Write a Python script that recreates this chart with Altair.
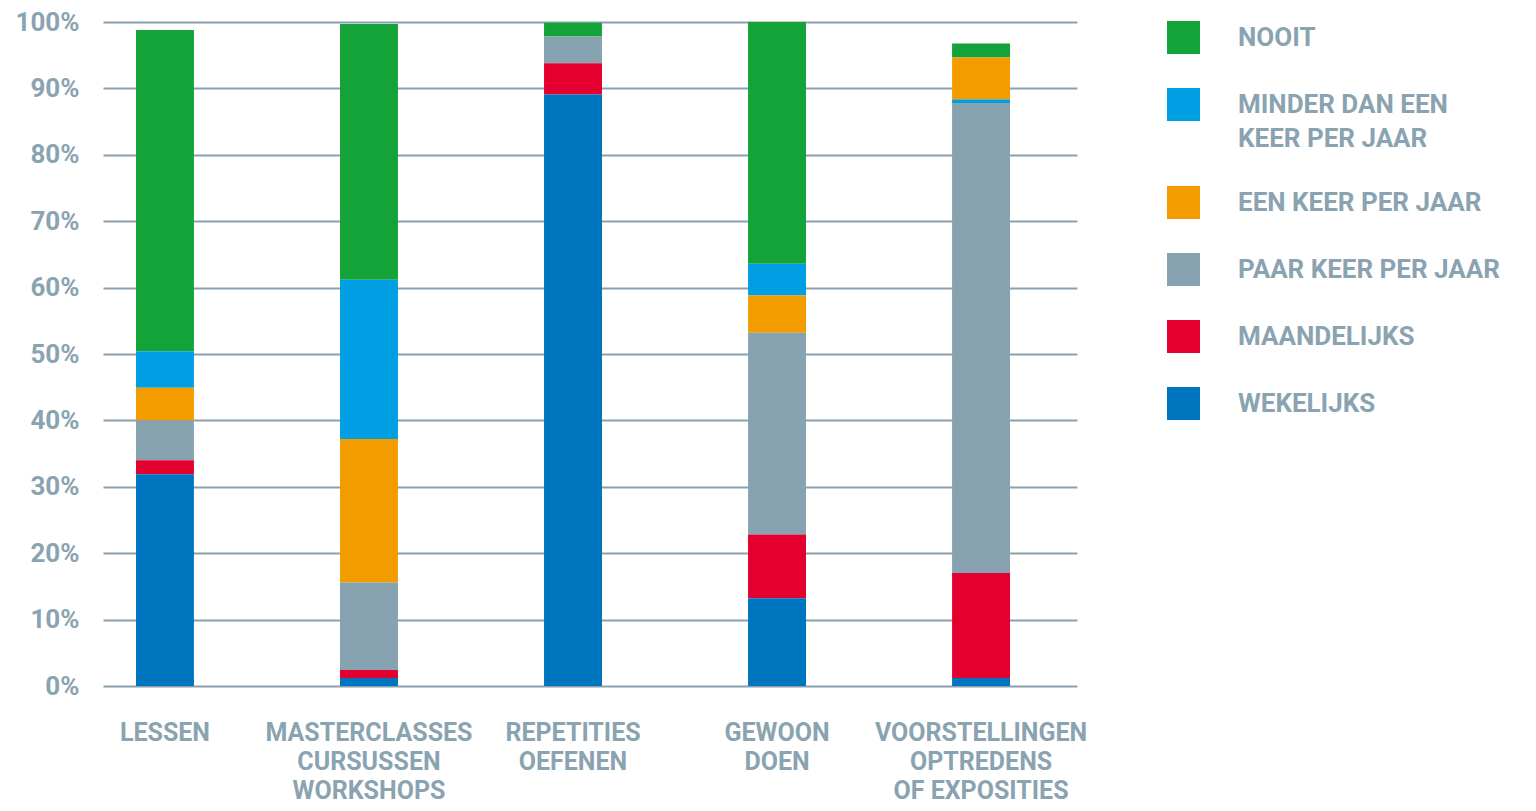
import altair as alt
import pandas as pd

categories = [
    "LESSEN",
    "MASTERCLASSES|CURSUSSEN|WORKSHOPS",
    "REPETITIES|OEFENEN",
    "GEWOON|DOEN",
    "VOORSTELLINGEN|OPTREDENS|OF EXPOSITIES",
]
series = [
    "NOOIT",
    "MINDER DAN EEN KEER PER JAAR",
    "EEN KEER PER JAAR",
    "PAAR KEER PER JAAR",
    "MAANDELIJKS",
    "WEKELIJKS",
]
colors = ["#14a338", "#009fe3", "#f39c00", "#87a2b0", "#e3002f", "#0075bf"]

# percentages per category, in the order of `series`
nooit = [48.4, 38.5, 2.1, 36.4, 2.1]
minder = [5.5, 24.0, 0.0, 4.8, 0.55]
een = [4.9, 21.6, 0.0, 5.6, 6.3]
paar = [6.0, 13.2, 4.0, 30.4, 70.8]
maand = [2.1, 1.2, 4.7, 9.6, 15.8]
wek = [31.9, 1.2, 89.1, 13.2, 1.2]

# stacking position from the bottom (0 = bottom) per category
stack_rank = {
    "WEKELIJKS": [0, 0, 0, 0, 0],
    "MAANDELIJKS": [1, 1, 1, 1, 1],
    "PAAR KEER PER JAAR": [2, 2, 2, 2, 2],
    "EEN KEER PER JAAR": [3, 3, 3, 3, 4],
    "MINDER DAN EEN KEER PER JAAR": [4, 4, 4, 4, 3],
    "NOOIT": [5, 5, 5, 5, 5],
}

values = dict(zip(series, [nooit, minder, een, paar, maand, wek]))
rows = []
for s in series:
    for i, c in enumerate(categories):
        rows.append({"cat": c, "serie": s, "pct": values[s][i], "rank": stack_rank[s][i]})
df = pd.DataFrame(rows)

TXT = "#8aa3b1"
GRID = "#8aa0ae"
FONT = "Roboto"

chart = (
    alt.Chart(df)
    .mark_bar()
    .encode(
        x=alt.X(
            "cat:N",
            sort=categories,
            title=None,
            scale=alt.Scale(paddingInner=0.716, paddingOuter=0.245, align=0.33),
            axis=alt.Axis(
                labelAngle=0,
                labelExpr="split(datum.label, '|')",
                labelFontSize=25,
                labelFontWeight="bold",
                labelColor=TXT,
                labelFont=FONT,
                labelLineHeight=29,
                labelBaseline="top",
                labelPadding=34,
                labelLimit=400,
                labelOverlap=False,
                ticks=False,
                domain=False,
                grid=False,
            ),
        ),
        y=alt.Y(
            "pct:Q",
            stack="zero",
            title=None,
            scale=alt.Scale(domain=[0, 100], nice=False),
            axis=alt.Axis(
                values=list(range(0, 101, 10)),
                labelExpr="datum.value + '%'",
                labelFontSize=26,
                labelFontWeight="bold",
                labelColor=TXT,
                labelFont=FONT,
                labelPadding=24,
                ticks=False,
                domain=False,
                grid=True,
                gridColor=GRID,
                gridWidth=2,
                gridOpacity=1,
            ),
        ),
        color=alt.Color(
            "serie:N",
            scale=alt.Scale(domain=series, range=colors),
            legend=alt.Legend(
                title=None,
                orient="none",
                legendX=1064,
                legendY=-1,
                padding=0,
                symbolType="square",
                symbolSize=1089,
                symbolStrokeWidth=0,
                symbolOpacity=1,
                labelFontSize=26,
                labelFontWeight="bold",
                labelColor=TXT,
                labelFont=FONT,
                labelOffset=38,
                labelLimit=400,
                rowPadding=34,
                labelExpr="datum.label == 'MINDER DAN EEN KEER PER JAAR' ? ['MINDER DAN EEN', 'KEER PER JAAR'] : datum.label",
            ),
        ),
        order=alt.Order("rank:Q", sort="ascending"),
    )
    .properties(
        width=974,
        height=664,
        autosize=alt.AutoSizeParams(type="none"),
        padding={"left": 95, "top": 14, "right": 440, "bottom": 117},
    )
    .configure(style={"guide-label": {"lineHeight": 34}})
    .configure_view(stroke=None)
)

chart.save("out.html", embed_options={"renderer": "svg", "actions": False})
